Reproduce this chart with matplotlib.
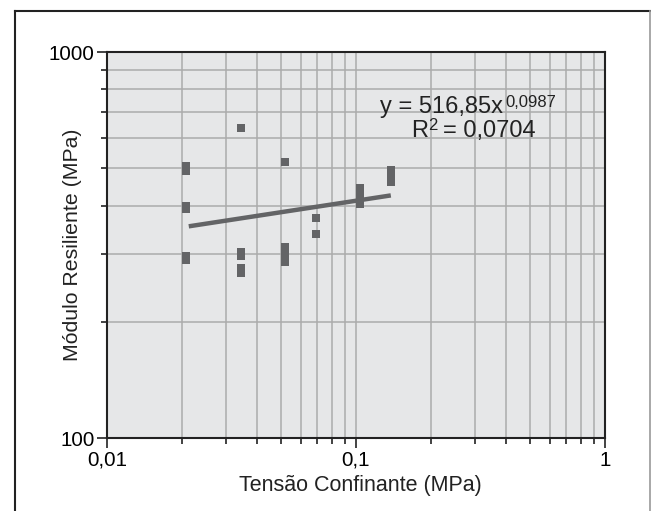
import numpy as np
import matplotlib
matplotlib.use('Agg')
import matplotlib.pyplot as plt
from matplotlib.ticker import LogLocator, FixedLocator, NullFormatter

plt.rcParams['font.family'] = ['Liberation Sans', 'DejaVu Sans']

# confining stress (MPa) and resilient modulus (MPa)
sigma3 = [0.0207] * 6 + [0.0345] * 5 + [0.0517] * 5 + [0.069] * 2 + [0.1034] * 4 + [0.1379] * 4
mr = [506, 491, 399, 391, 297, 290,
      637, 304, 297, 275, 268,
      519, 312, 303, 294, 286,
      371, 338,
      445, 432, 418, 403,
      495, 483, 472, 461]

# power trend line y = a * x^b
a_coef = 516.85
b_coef = 0.0987
trend_x = [0.0213, 0.138]

eq_text = 'y = 516,85x'
eq_exp = '0,0987'
r2_text = '= 0,0704'

W, H = 651, 511
fig = plt.figure(figsize=(W / 100, H / 100), dpi=100)
ax = fig.add_axes([107 / W, 1 - 438 / H, (605 - 107) / W, (438 - 52) / H])
ax.set_facecolor('#e6e7e8')

ax.set_xscale('log')
ax.set_yscale('log')
ax.set_xlim(0.01, 1)
ax.set_ylim(100, 1000)

ax.xaxis.set_major_locator(FixedLocator([0.01, 0.1, 1]))
ax.xaxis.set_minor_locator(LogLocator(base=10, subs=np.arange(2, 10)))
ax.yaxis.set_major_locator(FixedLocator([100, 1000]))
ax.yaxis.set_minor_locator(LogLocator(base=10, subs=np.arange(2, 10)))
ax.set_xticklabels(['0,01', '0,1', '1'])
ax.set_yticklabels(['100', '1000'])
ax.xaxis.set_minor_formatter(NullFormatter())
ax.yaxis.set_minor_formatter(NullFormatter())

ax.grid(True, which='both', color='#ababab', linewidth=1.1)
ax.set_axisbelow(True)
ax.tick_params(which='major', length=7, width=1.2, labelsize=14.8, color='#222222', pad=2)
ax.tick_params(which='minor', length=4, width=1.2, color='#222222')
for s in ax.spines.values():
    s.set_linewidth(1.5)
    s.set_color('#222222')

ax.scatter(sigma3, mr, marker='s', s=36, color='#636466', linewidths=0, zorder=3)
tx = np.array(trend_x)
ax.plot(tx, a_coef * tx ** b_coef, color='#636466', linewidth=3.2, zorder=4, solid_capstyle='butt')

ax.set_xlabel('Tensão Confinante (MPa)', fontsize=15.5, color='#222222')
ax.set_ylabel('Módulo Resiliente (MPa)', fontsize=15.3, color='#222222')
ax.xaxis.set_label_coords((360 - 107) / 498, (438 - 485) / 386)
ax.xaxis.label.set_va('center')
ax.yaxis.set_label_coords((72 - 107) / 498, 0.5)
ax.yaxis.label.set_va('center')

# equation annotation
fig.text(380 / W, 1 - 113 / H, eq_text, fontsize=17, color='#222222', va='baseline')
fig.text(505 / W, 1 - 107 / H, eq_exp, fontsize=12, color='#222222', va='baseline')
fig.text(411 / W, 1 - 137 / H, 'R', fontsize=17, color='#222222', va='baseline')
fig.text(428 / W, 1 - 130 / H, '2', fontsize=12, color='#222222', va='baseline')
fig.text(443 / W, 1 - 137 / H, r2_text, fontsize=17, color='#222222', va='baseline')

# outer frame
fig.add_artist(plt.Line2D([15 / W, 15 / W], [-0.01, 1 - 11 / H], transform=fig.transFigure, color='#222222', linewidth=1.5))
fig.add_artist(plt.Line2D([15 / W, 650 / W], [1 - 11 / H, 1 - 11 / H], transform=fig.transFigure, color='#222222', linewidth=1.5))
fig.add_artist(plt.Line2D([650 / W, 650 / W], [-0.01, 1 - 11 / H], transform=fig.transFigure, color='#9a9a9a', linewidth=1.2))

fig.savefig('out.png', dpi=100)
